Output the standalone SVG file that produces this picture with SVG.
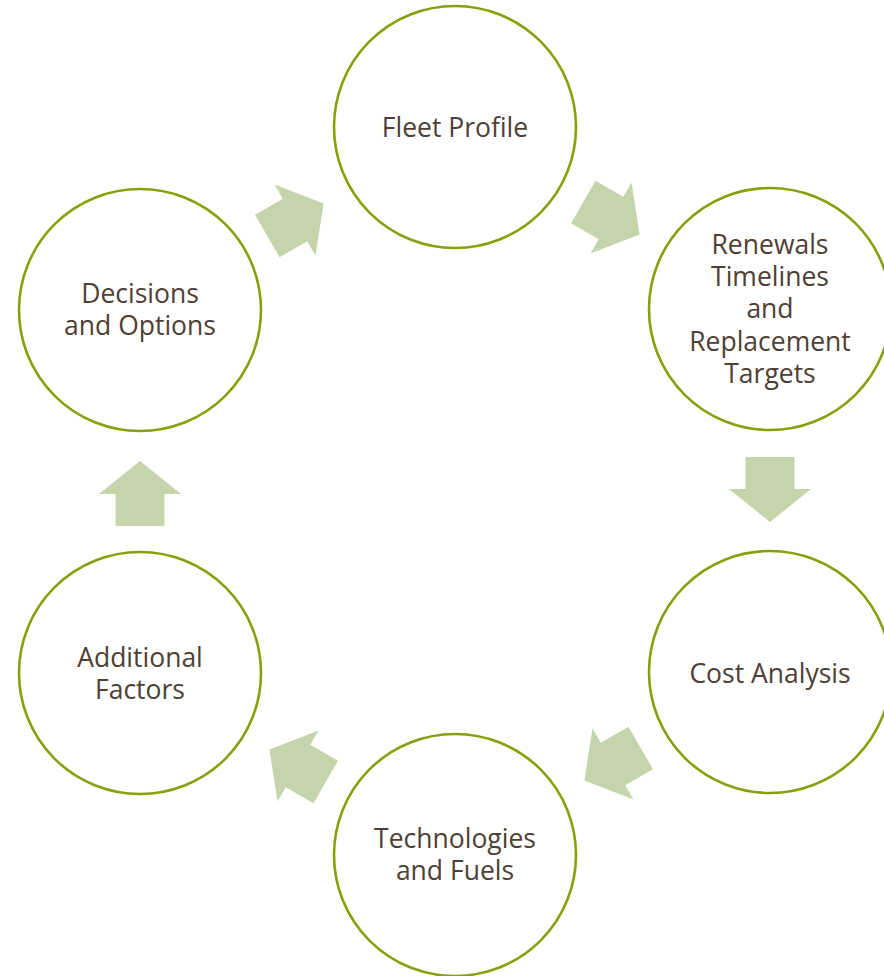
<svg xmlns="http://www.w3.org/2000/svg" width="884" height="976" viewBox="0 0 884 976">
<defs>
<style>
.node circle{fill:#ffffff;stroke:#86a10b;stroke-width:2.6}
.node text{font-family:"Open Sans","Liberation Sans",sans-serif;font-size:26.5px;fill:#4e4035;text-anchor:middle}
.arrow{fill:#c5d4ab}
</style>
<polygon id="arr" points="-32,-24.5 0,-24.5 0,-41 33,0 0,41 0,24.5 -32,24.5"/>
</defs>
<rect width="884" height="976" fill="#ffffff"/>
<g id="connectors">
<use href="#arr" class="arrow" transform="translate(295,220) rotate(-30)"/>
<use href="#arr" class="arrow" transform="translate(611,218) rotate(30)"/>
<use href="#arr" class="arrow" transform="translate(770,489) rotate(90)"/>
<use href="#arr" class="arrow" transform="translate(613,764) rotate(150)"/>
<use href="#arr" class="arrow" transform="translate(298,766) rotate(210)"/>
<use href="#arr" class="arrow" transform="translate(140,494) rotate(-90)"/>
</g>
<g id="fleet-profile" class="node">
<circle cx="455" cy="127" r="121"/>
<text x="455" y="137">Fleet Profile</text>
</g>
<g id="renewals" class="node">
<circle cx="770" cy="309" r="121"/>
<text x="770" y="254">Renewals</text>
<text x="770" y="286">Timelines</text>
<text x="770" y="318">and</text>
<text x="770" y="351">Replacement</text>
<text x="770" y="383">Targets</text>
</g>
<g id="cost-analysis" class="node">
<circle cx="770" cy="672" r="121"/>
<text x="770" y="683">Cost Analysis</text>
</g>
<g id="technologies" class="node">
<circle cx="455" cy="855" r="121"/>
<text x="455" y="848">Technologies</text>
<text x="455" y="880">and Fuels</text>
</g>
<g id="additional-factors" class="node">
<circle cx="140" cy="673" r="121"/>
<text x="140" y="667">Additional</text>
<text x="140" y="699">Factors</text>
</g>
<g id="decisions" class="node">
<circle cx="140" cy="310" r="121"/>
<text x="140" y="303">Decisions</text>
<text x="140" y="335">and Options</text>
</g>
</svg>
